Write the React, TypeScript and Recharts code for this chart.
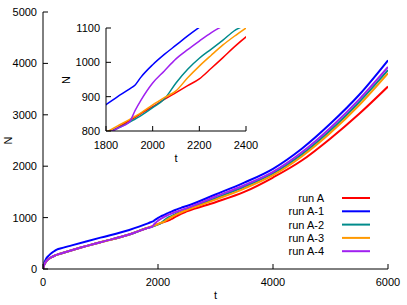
import React from 'react';
import { LineChart, Line, XAxis, YAxis } from 'recharts';

const tValues = [0, 20, 50, 100, 150, 200, 250, 300, 500, 1000, 1500, 1800, 1850, 1900, 1925, 1950, 2000, 2050, 2100, 2150, 2200, 2250, 2300, 2350, 2400, 2500, 3000, 3500, 4000, 4500, 5000, 5500, 6000];
const runA = [0, 80, 140, 195, 230, 258, 280, 297, 365, 520, 670, 792, 810, 830, 840, 851, 871, 892, 912, 932, 952, 982, 1013, 1045, 1074, 1120, 1300, 1500, 1780, 2110, 2540, 3020, 3550];
const runA1 = [0, 110, 190, 260, 310, 350, 383, 400, 460, 610, 760, 877, 900, 922, 934, 957, 993, 1023, 1050, 1077, 1102, 1125, 1148, 1170, 1190, 1225, 1450, 1680, 1950, 2340, 2830, 3390, 4060];
const runA2 = [0, 80, 140, 195, 230, 258, 280, 297, 365, 520, 670, 792, 808, 825, 835, 845, 868, 893, 940, 980, 1012, 1038, 1064, 1092, 1110, 1160, 1380, 1600, 1860, 2230, 2700, 3250, 3870];
const runA3 = [0, 80, 140, 195, 230, 258, 280, 297, 365, 520, 670, 796, 815, 833, 843, 853, 876, 897, 917, 955, 989, 1020, 1050, 1076, 1100, 1145, 1350, 1565, 1825, 2190, 2650, 3190, 3810];
const runA4 = [0, 80, 140, 195, 230, 258, 280, 297, 365, 520, 670, 790, 808, 826, 860, 890, 940, 975, 1010, 1037, 1062, 1086, 1106, 1126, 1146, 1185, 1410, 1630, 1890, 2270, 2750, 3300, 3930];

const seriesNames = ['run A', 'run A-1', 'run A-2', 'run A-3', 'run A-4'];
const seriesKeys = ['a', 'a1', 'a2', 'a3', 'a4'];
const seriesColors = ['#ff0000', '#0000ff', '#008b8b', '#ff9900', '#a020f0'];

const mainXTicks = [0, 2000, 4000, 6000];
const mainYTicks = [0, 1000, 2000, 3000, 4000, 5000];
const insetXTicks = [1800, 2000, 2200, 2400];
const insetYTicks = [800, 900, 1000, 1100];

const data = tValues.map((t, i) => ({
  t,
  a: runA[i],
  a1: runA1[i],
  a2: runA2[i],
  a3: runA3[i],
  a4: runA4[i],
}));

const FONT = '"Liberation Sans", Arial, sans-serif';
const tickStyle = { fontSize: 11, fill: '#000', fontFamily: FONT };

function App() {
  return (
    <div style={{ position: 'absolute', left: 0, top: 0, width: 407, height: 305, background: '#fff', fontFamily: FONT }}>
      <div style={{ position: 'absolute', left: 0, top: 0 }}>
        <LineChart width={407} height={305} data={data} margin={{ top: 12, right: 19, left: 0, bottom: 0 }}>
          <XAxis
            dataKey="t"
            type="number"
            domain={[0, 6000]}
            ticks={mainXTicks}
            allowDataOverflow
            height={36}
            tickSize={-5}
            tickMargin={14}
            stroke="#000"
            tick={tickStyle}
            label={{
              content: () => (
                <text x={215.5} y={299} textAnchor="middle" fontSize={11} fontFamily={FONT} fill="#000">t</text>
              ),
            }}
          />
          <XAxis
            xAxisId="top"
            orientation="top"
            dataKey="t"
            type="number"
            domain={[0, 6000]}
            ticks={mainXTicks}
            allowDataOverflow
            height={0}
            tickSize={-5}
            tick={false}
            stroke="#000"
          />
          <YAxis
            type="number"
            domain={[0, 5000]}
            ticks={mainYTicks}
            allowDataOverflow
            width={43}
            tickSize={-5}
            tickMargin={11}
            stroke="#000"
            tick={tickStyle}
            label={{
              content: () => (
                <text x={12} y={140.5} textAnchor="middle" fontSize={11} fontFamily={FONT} fill="#000" transform="rotate(-90 12 140.5)">N</text>
              ),
            }}
          />
          <YAxis
            yAxisId="right"
            orientation="right"
            type="number"
            domain={[0, 5000]}
            ticks={mainYTicks}
            allowDataOverflow
            width={0}
            tickSize={-5}
            tick={false}
            stroke="#000"
          />
          {seriesKeys.map((k, i) => (
            <Line key={k} dataKey={k} type="monotone" stroke={seriesColors[i]} strokeWidth={2} dot={false} isAnimationActive={false} />
          ))}
        </LineChart>
      </div>
      <div style={{ position: 'absolute', left: 60, top: 10 }}>
        <LineChart width={216} height={165} data={data} margin={{ top: 18, right: 30, left: 0, bottom: 0 }}>
          <XAxis
            dataKey="t"
            type="number"
            domain={[1800, 2400]}
            ticks={insetXTicks}
            allowDataOverflow
            height={44}
            tickSize={-5}
            tickMargin={15}
            stroke="#000"
            tick={tickStyle}
            label={{
              content: () => (
                <text x={116} y={152} textAnchor="middle" fontSize={11} fontFamily={FONT} fill="#000">t</text>
              ),
            }}
          />
          <XAxis
            xAxisId="top"
            orientation="top"
            dataKey="t"
            type="number"
            domain={[1800, 2400]}
            ticks={insetXTicks}
            allowDataOverflow
            height={0}
            tickSize={-5}
            tick={false}
            stroke="#000"
          />
          <YAxis
            type="number"
            domain={[800, 1100]}
            ticks={insetYTicks}
            allowDataOverflow
            width={46}
            tickSize={-5}
            tickMargin={11}
            stroke="#000"
            tick={tickStyle}
            label={{
              content: () => (
                <text x={10} y={70} textAnchor="middle" fontSize={11} fontFamily={FONT} fill="#000" transform="rotate(-90 10 70)">N</text>
              ),
            }}
          />
          <YAxis
            yAxisId="right"
            orientation="right"
            type="number"
            domain={[800, 1100]}
            ticks={insetYTicks}
            allowDataOverflow
            width={0}
            tickSize={-5}
            tick={false}
            stroke="#000"
          />
          {seriesKeys.map((k, i) => (
            <Line key={k} dataKey={k} type="monotone" stroke={seriesColors[i]} strokeWidth={1.5} dot={false} isAnimationActive={false} />
          ))}
        </LineChart>
      </div>
      <svg style={{ position: 'absolute', left: 270, top: 188 }} width={110} height={72}>
        {seriesNames.map((name, i) => (
          <g key={name}>
            <text x={54} y={10 + i * 13.3} textAnchor="end" dominantBaseline="central" fontSize={11} fontFamily={FONT} fill="#000">{name}</text>
            <line x1={72} x2={100} y1={10 + i * 13.3} y2={10 + i * 13.3} stroke={seriesColors[i]} strokeWidth={2} />
          </g>
        ))}
      </svg>
    </div>
  );
}

export default App;
